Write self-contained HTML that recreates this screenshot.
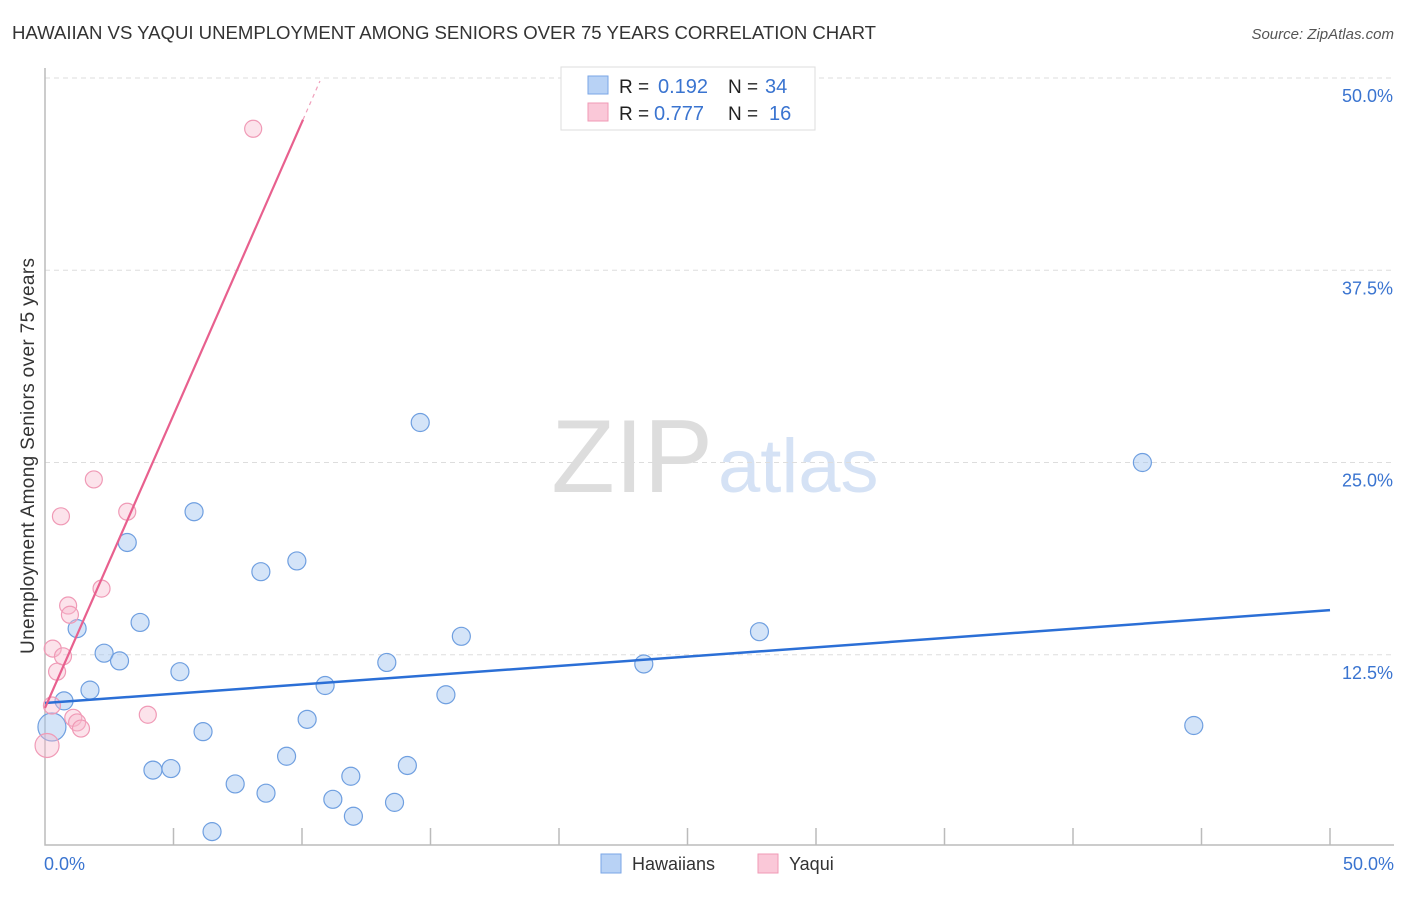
<!DOCTYPE html>
<html><head><meta charset="utf-8"><style>
body{margin:0;background:#fff;font-family:"Liberation Sans",sans-serif}
svg text{font-family:"Liberation Sans",sans-serif}
</style></head><body>
<svg id="c" width="1406" height="892">
<text x="12" y="39" font-size="18.6" fill="#333" textLength="864">HAWAIIAN VS YAQUI UNEMPLOYMENT AMONG SENIORS OVER 75 YEARS CORRELATION CHART</text>
<text x="1394" y="39" font-size="15" fill="#555" text-anchor="end" font-style="italic">Source: ZipAtlas.com</text>
<text transform="translate(34,456) rotate(-90)" font-size="19" fill="#333" text-anchor="middle" textLength="396">Unemployment Among Seniors over 75 years</text>
<text x="713" y="492" font-size="104" fill="#ddd" text-anchor="end" font-family="Liberation Serif">ZIP</text>
<text x="718" y="492" font-size="76" fill="#d5e2f5">atlas</text>
<g id="grid"></g><g id="marks"></g>
<g>
<rect x="561" y="67" width="254" height="63" fill="#fff" stroke="#ddd"/>
<rect x="588" y="76" width="20" height="18" fill="#b8d2f5" stroke="#7aa6e6"/>
<rect x="588" y="103" width="20" height="18" fill="#fac8d8" stroke="#f09ab6"/>
<text x="619" y="93" font-size="19" fill="#222">R =</text>
<text x="658" y="93" font-size="20" fill="#3a74d0">0.192</text>
<text x="728" y="93" font-size="19" fill="#222">N =</text>
<text x="765" y="93" font-size="20" fill="#3a74d0">34</text>
<text x="619" y="120" font-size="19" fill="#222">R =</text>
<text x="654" y="120" font-size="20" fill="#3a74d0">0.777</text>
<text x="728" y="120" font-size="19" fill="#222">N =</text>
<text x="769" y="120" font-size="20" fill="#3a74d0">16</text>
</g>
<g>
<rect x="601" y="854" width="20" height="19" fill="#b8d2f5" stroke="#7aa6e6"/>
<text x="632" y="870" font-size="18" fill="#333">Hawaiians</text>
<rect x="758" y="854" width="20" height="19" fill="#fac8d8" stroke="#f09ab6"/>
<text x="789" y="870" font-size="18" fill="#333">Yaqui</text>
</g>
</svg>
<script>
const yTicks=[12.5,25,37.5,50];
const yTickLabels=["12.5%","25.0%","37.5%","50.0%"];
const hawX=[0.27,0.74,1.25,1.75,2.3,2.9,3.2,3.7,4.2,4.9,5.25,5.8,6.15,6.5,7.4,8.4,8.6,9.4,9.8,10.2,10.9,11.2,11.9,12.0,13.3,13.6,14.1,14.6,15.6,16.2,23.3,27.8,42.7,44.7];
const hawY=[7.8,9.5,14.2,10.2,12.6,12.1,19.8,14.6,5.0,5.1,11.4,21.8,7.5,1.0,4.1,17.9,3.5,5.9,18.6,8.3,10.5,3.1,4.6,2.0,12.0,2.9,5.3,27.6,9.9,13.7,11.9,14.0,25.0,7.9];
const yaqX=[0.08,0.27,0.3,0.47,0.62,0.7,0.9,0.97,1.1,1.25,1.4,1.9,2.2,3.2,4.0,8.1];
const yaqY=[6.6,9.2,12.9,11.4,21.5,12.4,15.7,15.1,8.4,8.1,7.7,23.9,16.8,21.8,8.6,46.7];
const hawLine=[9.36,15.4];
const yaqLine=[9.04,3.81];
const X=v=>45+v*25.7, Y=v=>847-v*15.38;
const NS="http://www.w3.org/2000/svg";
const grid=document.getElementById('grid'), marks=document.getElementById('marks');
function mk(tag,a,p){const e=document.createElementNS(NS,tag);for(const k in a)e.setAttribute(k,a[k]);p.appendChild(e);return e;}
yTicks.forEach((t,i)=>{
 const l=mk('line',{x1:45,x2:1394,y1:Y(t),y2:Y(t),stroke:'#ddd','stroke-dasharray':'5,4'},grid);
 
 
 const tx=mk('text',{x:1393,y:Y(t)+24,'font-size':18,fill:'#3a74d0','text-anchor':'end'},grid);
 tx.textContent=yTickLabels[i];
 
 
});
const ax=mk('path',{d:'M45,68 V845 H1394',stroke:'#bbb',fill:'none','stroke-width':1.5},grid);


for(let i=1;i<=10;i++){const t=mk('line',{x1:X(i*5),x2:X(i*5),y1:828,y2:845,stroke:'#bbb','stroke-width':1.5},grid);
 
 }
[[0,"0.0%","start",44],[50,"50.0%","end",1394]].forEach(d=>{const t=mk('text',{x:d[3],y:870,'font-size':18,fill:'#3a74d0','text-anchor':d[2]},grid);t.textContent=d[1];
 
 });
hawX.forEach((x,i)=>{const c=mk('circle',{cx:X(x),cy:Y(hawY[i]),r:i==0?14:9,fill:'rgba(160,195,240,0.45)',stroke:'#6f9fe0','stroke-width':1.2},marks);
 
 });
yaqX.forEach((x,i)=>{const c=mk('circle',{cx:X(x),cy:Y(yaqY[i]),r:i==0?12:8.5,fill:'rgba(248,185,205,0.4)',stroke:'#f09ab6','stroke-width':1.2},marks);
 
 });
const hl=mk('line',{x1:X(0),y1:Y(hawLine[0]),x2:X(50),y2:Y(hawLine[1]),stroke:'#2b6fd6','stroke-width':2.5},marks);


const yl=mk('line',{x1:X(0),y1:Y(yaqLine[0]),x2:X(10.04),y2:Y(yaqLine[0]+yaqLine[1]*10.04),stroke:'#e8608e','stroke-width':2.2},marks);


const yd=mk('line',{x1:X(10.04),y1:Y(yaqLine[0]+yaqLine[1]*10.04),x2:X(10.7),y2:Y(yaqLine[0]+yaqLine[1]*10.7),stroke:'#f0a0bb','stroke-width':1.2,'stroke-dasharray':'4,4'},marks);


</script>
</body></html>
